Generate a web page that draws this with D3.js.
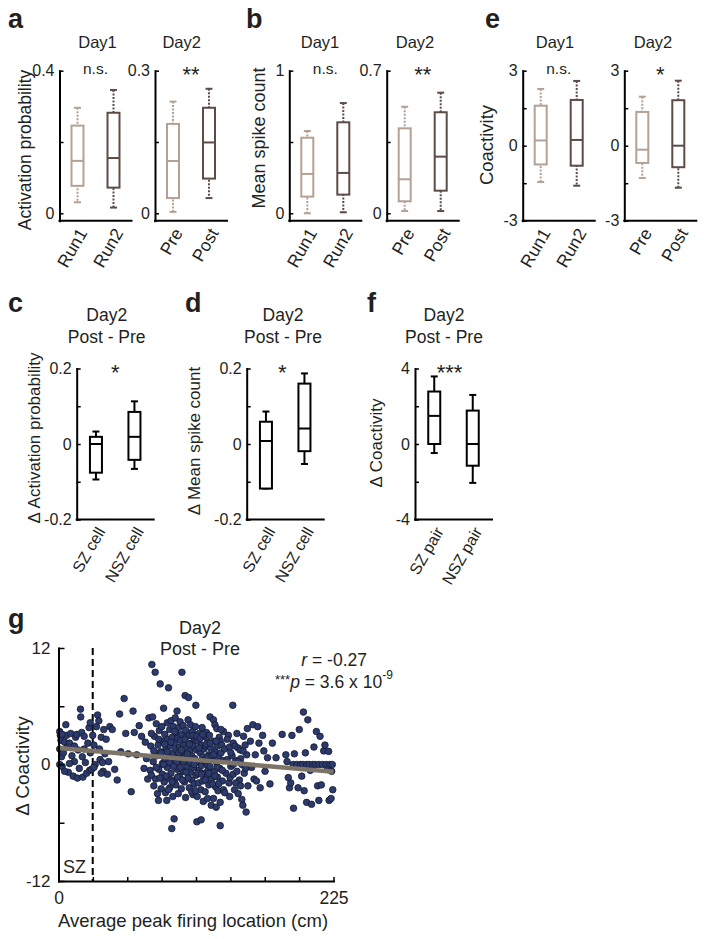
<!DOCTYPE html>
<meta charset="utf-8">
<style>
body,html{margin:0;padding:0;background:#fff}
svg text{font-family:"Liberation Sans",Arial,Helvetica,sans-serif;fill:#231f20}
</style>
<svg width="704" height="939"></svg>
<script src="https://d3js.org/d3.v7.min.js"></script>
<script>

var svg = d3.select("svg");

var lightCol = "#b3a195", darkCol = "#5d4c46";

// box stats: [low whisker, q1, median, q3, high whisker]
var runCats = ["Run1", "Run2"], prePostCats = ["Pre", "Post"];
var actDay1 = [[0.031, 0.077, 0.147, 0.246, 0.296], [0.016, 0.072, 0.155, 0.282, 0.346]];
var actDay2 = [[0.003, 0.032, 0.110, 0.188, 0.235], [0.032, 0.073, 0.149, 0.222, 0.262]];
var spkDay1 = [[0, 0.117, 0.276, 0.530, 0.577], [0.007, 0.131, 0.283, 0.638, 0.773]];
var spkDay2 = [[0.011, 0.059, 0.167, 0.417, 0.523], [0.011, 0.111, 0.278, 0.496, 0.592]];
var coDay1 = [[-1.45, -0.75, 0.21, 1.6, 2.27], [-1.6, -0.8, 0.23, 1.83, 2.59]];
var coDay2 = [[-1.29, -0.69, -0.16, 1.35, 1.96], [-1.68, -0.86, 0, 1.82, 2.6]];

var cellCats = ["SZ cell", "NSZ cell"], pairCats = ["SZ pair", "NSZ pair"];
var dAct = [[-0.094, -0.076, 0, 0.019, 0.033], [-0.066, -0.042, 0.019, 0.085, 0.113]];
var dSpk = [[-0.118, -0.118, 0.008, 0.059, 0.086], [-0.053, -0.019, 0.041, 0.16, 0.187]];
var dCo = [[-0.48, 0, 1.49, 2.78, 3.58], [-2.06, -1.15, 0, 1.77, 2.6]];

// panel g: [average peak location (cm), delta coactivity]
var coactPts = [
[1,3.4],[1.5,3.0],[2,2.5],[1,1.6],[2.5,0.8],[1,0],[3,-0.2],[4,1.2],[5,2.3],[6,4.1],[6.5,3.0],[7,1.8],[8,-0.8],[9,2.2],
[10,3.2],[11,0.9],[12,-1.2],[13,0.3],[14,2.8],[15,3.1],[15.5,-1.4],[16,1.5],[17,-0.4],[18,5.7],[18.2,4.9],[19,3.3],
[19.5,0.8],[20,-1.3],[21,1.6],[22,0.2],[23,-0.9],[24,2.2],[25,3.8],[25.5,-0.6],[26,1.2],[27,-0.5],[28,3.0],[29,2.0],
[30,0.0],[31,3.9],[32,5.1],[33,4.5],[33.5,1.6],[34,0.5],[35,2.8],[36,0.2],[36.5,-0.7],[37,3.6],[38,1.1],[39,2.6],
[40,-1.0],[41,0.3],[42,3.9],[3,3.1],[5,-0.7],[9,0.1],[13,1.9],[21,2.9],[26,4.3],[29,-0.3],[35,-0.9],
[44,3.6],[46,-0.5],[48,-1.6],[50,5.2],[51,1.3],[53.7,6.8],[55,3.2],[57,1.1],[59.5,-2.8],[61,5.5],[62,3.3],[64,1.0],
[66,4.0],[68,2.9],[70,-0.4],[71,2.3],[72,0.6],[73,-1.5],[74,4.8],
[75,-0.6],[75.5,1.9],[76,-1.1],[76.4,10.3],[77,4.9],[77.5,0.3],[78,-2.2],[78.5,2.9],[79.1,9.5],[79.5,-1.5],[80,4.2],
[80.5,0.9],[81,-3.0],[81.5,2.0],[81.8,-3.7],[82,-0.5],[82.5,3.5],[83.2,8.3],[83.5,1.3],[84,-2.5],[84.5,3.9],[85,0.1],
[85,-1.0],[85.5,2.4],
[86,5.8],[86.5,-1.8],[87,3.1],[87,0.6],[87.5,-2.9],[88,1.7],[88.6,-3.7],[89,4.3],[89,-0.3],[89.5,2.6],[90,7.9],
[90,-1.4],[90.5,0.8],[91,3.6],[91,-2.4],[91.5,1.9],[92,4.5],[92,-0.9],[92.7,-6.6],[93,2.8],[93,0.3],[93.5,-3.3],
[94,3.9],[94,1.2],[94.6,-5.6],[95,-1.6],[95,2.2],[95.5,4.8],[95.5,0.0],
[96,3.3],[96,-2.1],[96.5,1.5],[97,5.5],[97,-0.5],[97.5,2.7],[98,0.9],[98,-3.0],[98.5,3.8],[99,1.8],[99,-1.2],
[99.5,4.4],[100,0.4],[100,2.5],[100.5,-2.5],[101,9.5],[101,3.1],[101.5,1.1],[102,-0.7],[102,4.0],[102.5,2.0],
[103,-1.8],[103,0.7],[103.6,7.1],[104,3.5],[104,-3.4],[104.5,1.6],[105,-0.2],[105,2.9],
[106,4.6],[106.4,6.9],[106.5,0.5],[107,-2.4],[107,3.0],[107.5,1.4],[108,-0.8],[108,4.1],[108.5,2.2],[109,-1.6],
[109,0.9],[109.5,3.4],[110,-3.1],[110,1.9],[110.5,-0.3],[111,2.7],[111,-2.0],[111.5,0.6],[112,3.9],[112.4,6.1],
[112.5,-1.1],[113,1.5],[113.2,-5.9],[113.5,-3.3],[114,2.4],[114,0.2],[114.5,-1.9],[115,3.2],[115,-0.6],
[116,1.2],[116.7,-5.7],[116.5,-2.6],[117,2.0],[117,-0.1],[117.5,3.8],[118,0.8],[118,-1.7],[118.5,-3.8],[119,1.6],
[119,2.9],[119.5,-0.9],[120,0.3],[120,-2.8],[120.5,1.9],[121,-1.3],[121,3.3],[121.5,0.0],[122,-3.5],[122,2.3],
[122.5,-0.5],[123,1.0],[123,-2.1],[123.5,3.0],[124,4.9],[124,-0.2],[124.5,1.7],[125,-1.5],[125,-4.2],
[126,0.6],[126.8,4.6],[126.8,-3.5],[127,2.4],[127.5,-0.7],[128,4.1],[128,1.3],[128.5,-2.3],[129,-4.4],[129.5,3.7],
[129.5,0.2],[130,-1.3],[130,1.9],[130.5,-2.7],[131,0.9],[131.5,2.8],[132,-0.4],[132.3,2.4],[132.3,-6.3],[132.3,-3.9],
[133,1.2],[133.6,2.0],[134,-1.7],[134.5,0.4],[135,-2.6],[135,3.4],
[96.5,0.2],[97.5,-1.3],[98.5,1.2],[99.5,-0.3],[100.5,1.5],[101.5,-1.6],[102.5,0.3],[103.5,2.6],[104.5,-0.8],
[105.5,1.1],[106,-1.4],[107,2.1],[108,0.2],[109,-2.8],[110,3.0],[111,0.0],[112,-2.7],[113,2.9],[114,-0.9],[115,1.7],
[116,2.7],[117,-1.0],[118,3.1],[119,0.4],[120,-1.6],[121,2.1],[122,0.8],[123,-0.9],[124,2.2],[125,0.9],[126,-2.0],
[127,1.0],[128,-1.2],[129,2.4],[130,-0.3],[131,-2.0],[89,1.3],[90,-2.6],[91,0.2],[92,2.3],[93,-1.8],[94,-0.2],
[95,3.4],[88,-1.2],[87,2.1],[86,0.0],[84,1.2],[83,-1.4],[82,2.6],[80,-0.3],[78,1.4],[76,3.2],
[136,1.6],[137,-0.9],[138,0.5],[139,3.0],[139.5,-1.9],[140,1.8],[140.4,-1.35],[141,-0.2],[142,0.9],[142.6,6.1],
[143,2.2],[143,-1.0],[144,-2.6],[144.5,1.9],[145,0.4],[146,-0.7],[146,3.2],[147,1.7],[147,-3.0],[148,-1.6],
[148.6,1.5],[149,0.6],[150,0.0],[150,-3.6],[150.8,-4.2],[151.4,2.9],[152,-0.9],[152.7,2.0],[153.5,-4.9],[154,1.0],
[154.5,3.7],[155,-2.2],[133,3.6],[134,-0.6],[136,-2.9],[138,2.6],[140,-3.3],[141,1.2],[143,0.0],[145,-1.9],[147,0.3],
[149,-2.2],[151,1.4],[153,-0.4],
[157,2.4],[158,-0.3],[159,4.1],[160,-1.5],[161,1.0],[162,-1.7],[163,3.9],[164,2.2],[165,-2.4],[167,3.0],[168,1.4],
[169,-0.7],[171,0.7],[173,-2.0],[175,2.2],[178,0.7],[183,3.1],[186,1.0],[187,0.3],[188,-1.35],[189,-2.4],[190,-1.9],
[191,3.0],[192,0.0],[192.3,-4.5],[193,1.1],
[195,0.0],[196,-2.4],[197,3.6],[198,0.0],[199,-1.2],[200,0.0],[200.4,5.4],[201,-2.7],[202,1.2],[203,-3.9],[203,0.0],
[204,4.6],[205,0.0],[206,-0.6],[207,-4.1],[208,0.0],[209,1.8],[210,0.0],[211,3.4],[212,-2.2],[213,-3.7],[213,0.0],
[214,2.9],[215,-2.1],[216,0.0],[217,1.4],[218,2.0],[219,0.0],[220,-0.5],[221,1.35],[221.4,-3.7],[222,0.0],
[223,-3.5],[223.5,-0.7],[224.4,-2.6],[224,0.0]
];
var fitLine = [[0, 1.7], [225, -0.75]];
var szEdge = 28;
var gXTicks = [0, 28.125, 56.25, 84.375, 112.5, 140.625, 168.75, 196.875, 225];
var gYTicks = [-12, -6, 0, 6, 12];

function panelLetter(t, x, y) {
  svg.append("text").attr("x", x).attr("y", y).attr("font-size", 27)
    .attr("font-weight", "bold").text(t);
}

function yLabel(t, x, y, fs) {
  svg.append("text").attr("transform", "translate(" + x + "," + y + ") rotate(-90)")
    .attr("text-anchor", "middle").attr("font-size", fs || 18).text(t);
}

function styleAxis(a, fs) {
  a.attr("font-size", fs);
  a.select(".domain").attr("stroke-width", 2).attr("stroke-linecap", "square");
  a.selectAll(".tick line").attr("stroke-width", 1.5);
}

function boxPlot(o) {
  var y = d3.scaleLinear().domain(o.domain).range([o.yBot, o.yTop]);
  var x = d3.scalePoint().domain(o.cats).range([o.x0, o.x0 + o.w]).padding(0.5);
  var g = svg.append("g");

  var ax = g.append("g").attr("transform", "translate(" + o.x0 + ",0)")
    .call(d3.axisLeft(y).tickValues(o.ticks).tickSizeInner(-4).tickSizeOuter(0).tickPadding(5)
      .tickFormat(function(d) { return o.labels.indexOf(d) >= 0 ? d : ""; }));
  styleAxis(ax, 16);

  g.append("line").attr("x1", o.x0).attr("x2", o.x0 + o.w)
    .attr("y1", o.yBot).attr("y2", o.yBot)
    .attr("stroke", "#000").attr("stroke-width", 2).attr("stroke-linecap", "square");

  var bw = 12, cw = 7;
  var box = g.selectAll(".box").data(o.stats).join("g")
    .attr("stroke", function(d, i) { return o.colors[i]; })
    .attr("stroke-width", 2).attr("fill", "none");
  box.append("line")
    .attr("x1", function(d, i) { return x(o.cats[i]); }).attr("x2", function(d, i) { return x(o.cats[i]); })
    .attr("y1", function(d) { return y(d[4]); }).attr("y2", function(d) { return y(d[0]); })
    .attr("stroke-dasharray", o.dashed ? "2,1.5" : null);
  box.append("line")
    .attr("x1", function(d, i) { return x(o.cats[i]) - cw / 2; }).attr("x2", function(d, i) { return x(o.cats[i]) + cw / 2; })
    .attr("y1", function(d) { return y(d[4]); }).attr("y2", function(d) { return y(d[4]); });
  box.append("line")
    .attr("x1", function(d, i) { return x(o.cats[i]) - cw / 2; }).attr("x2", function(d, i) { return x(o.cats[i]) + cw / 2; })
    .attr("y1", function(d) { return y(d[0]); }).attr("y2", function(d) { return y(d[0]); });
  box.append("rect")
    .attr("x", function(d, i) { return x(o.cats[i]) - bw / 2; }).attr("width", bw)
    .attr("y", function(d) { return y(d[3]); })
    .attr("height", function(d) { return y(d[1]) - y(d[3]); })
    .attr("fill", "#fff");
  box.append("line")
    .attr("x1", function(d, i) { return x(o.cats[i]) - bw / 2; }).attr("x2", function(d, i) { return x(o.cats[i]) + bw / 2; })
    .attr("y1", function(d) { return y(d[2]); }).attr("y2", function(d) { return y(d[2]); });

  g.selectAll(".xl").data(o.cats).join("text")
    .attr("transform", function(d) { return "translate(" + (x(d) + 5) + "," + (o.yBot + 9) + ") rotate(-60)"; })
    .attr("text-anchor", "end").attr("dy", "0.35em").attr("font-size", o.xfs || 17.5)
    .text(function(d) { return d; });

  if (o.title) {
    o.title.forEach(function(t, i) {
      g.append("text").attr("x", o.titleX).attr("y", o.titleY + i * 22)
        .attr("text-anchor", "middle").attr("font-size", o.tfs || 16.5).text(t);
    });
  }
  var sx = o.x0 + o.w / 2 + (o.sigDx || 0);
  if (o.sig === "n.s.") {
    g.append("text").attr("x", sx).attr("y", o.yTop + 3).attr("text-anchor", "middle")
      .attr("font-size", 15.5).text(o.sig);
  } else {
    g.append("text").attr("x", sx).attr("y", o.yTop + 11).attr("text-anchor", "middle")
      .attr("font-size", 22).text(o.sig);
  }
}

// ---- row 1 ----
var t1 = 70.7, b1 = 220.7;
panelLetter("a", 8, 28);
boxPlot({x0: 59.5, w: 72, yTop: t1, yBot: b1, domain: [-0.0208, 0.4], ticks: [0, 0.2, 0.4], labels: [0, 0.4],
  cats: runCats, stats: actDay1, colors: [lightCol, darkCol], dashed: true,
  title: ["Day1"], titleX: 97.5, titleY: 48, sig: "n.s."});
boxPlot({x0: 155, w: 72, yTop: t1, yBot: b1, domain: [-0.0156, 0.3], ticks: [0, 0.15, 0.3], labels: [0, 0.3],
  cats: prePostCats, stats: actDay2, colors: [lightCol, darkCol], dashed: true,
  title: ["Day2"], titleX: 181.7, titleY: 48, sig: "**"});
yLabel("Activation probability", 31, 150, 17.5);

panelLetter("b", 246, 28);
boxPlot({x0: 289.3, w: 72, yTop: t1, yBot: b1, domain: [-0.052, 1], ticks: [0, 0.5, 1], labels: [0, 1],
  cats: runCats, stats: spkDay1, colors: [lightCol, darkCol], dashed: true,
  title: ["Day1"], titleX: 320, titleY: 48, sig: "n.s."});
boxPlot({x0: 386.7, w: 72, yTop: t1, yBot: b1, domain: [-0.0364, 0.7], ticks: [0, 0.35, 0.7], labels: [0, 0.7],
  cats: prePostCats, stats: spkDay2, colors: [lightCol, darkCol], dashed: true,
  title: ["Day2"], titleX: 415, titleY: 48, sig: "**"});
yLabel("Mean spike count", 264.5, 138);

panelLetter("e", 485, 28);
boxPlot({x0: 522.7, w: 72, yTop: t1, yBot: b1, domain: [-3, 3], ticks: [-3, -1.5, 0, 1.5, 3], labels: [-3, 0, 3],
  cats: runCats, stats: coDay1, colors: [lightCol, darkCol], dashed: true,
  title: ["Day1"], titleX: 555, titleY: 48, sig: "n.s."});
boxPlot({x0: 624.3, w: 72, yTop: t1, yBot: b1, domain: [-3, 3], ticks: [-3, -1.5, 0, 1.5, 3], labels: [-3, 0, 3],
  cats: prePostCats, stats: coDay2, colors: [lightCol, darkCol], dashed: true,
  title: ["Day2"], titleX: 653, titleY: 48, sig: "*"});
yLabel("Coactivity", 493, 145, 18.5);

// ---- row 2 ----
var t2 = 368.5, b2 = 519.5;
panelLetter("c", 8, 312);
boxPlot({x0: 76.7, w: 77, yTop: t2, yBot: b2, domain: [-0.2, 0.2], ticks: [-0.2, -0.1, 0, 0.1, 0.2], labels: [-0.2, 0, 0.2],
  cats: cellCats, stats: dAct, colors: ["#000", "#000"], xfs: 16, tfs: 17.5,
  title: ["Day2", "Post - Pre"], titleX: 106.7, titleY: 321, sig: "*", sigDx: 0});
yLabel("\u0394 Activation probability", 39.5, 438, 17);

panelLetter("d", 185, 312);
boxPlot({x0: 246.7, w: 77, yTop: t2, yBot: b2, domain: [-0.2, 0.2], ticks: [-0.2, -0.1, 0, 0.1, 0.2], labels: [-0.2, 0, 0.2],
  cats: cellCats, stats: dSpk, colors: ["#000", "#000"], xfs: 16, tfs: 17.5,
  title: ["Day2", "Post - Pre"], titleX: 283, titleY: 321, sig: "*", sigDx: -3});
yLabel("\u0394 Mean spike count", 199.5, 441, 17);

panelLetter("f", 367, 312);
boxPlot({x0: 415, w: 77, yTop: t2, yBot: b2, domain: [-4, 4], ticks: [-4, -2, 0, 2, 4], labels: [-4, 0, 4],
  cats: pairCats, stats: dCo, colors: ["#000", "#000"], xfs: 16, tfs: 17.5,
  title: ["Day2", "Post - Pre"], titleX: 444, titleY: 321, sig: "***", sigDx: -4});
yLabel("\u0394 Coactivity", 381.5, 443, 17);

// ---- panel g ----
panelLetter("g", 8, 628);
var gx = d3.scaleLinear().domain([0, 225]).range([58.5, 333.5]);
var gy = d3.scaleLinear().domain([-12, 12]).range([881, 648]);
var gg = svg.append("g");

gg.append("line").attr("x1", gx(szEdge)).attr("x2", gx(szEdge))
  .attr("y1", gy(12)).attr("y2", gy(-12))
  .attr("stroke", "#000").attr("stroke-width", 2).attr("stroke-dasharray", "7,4");

gg.selectAll("circle").data(coactPts).join("circle")
  .attr("cx", function(d) { return gx(d[0]); })
  .attr("cy", function(d) { return gy(d[1]); })
  .attr("r", 3.3).attr("fill", "#2c3a6e").attr("stroke", "#151a2c").attr("stroke-width", 0.8);

gg.append("line")
  .attr("x1", gx(fitLine[0][0])).attr("y1", gy(fitLine[0][1]))
  .attr("x2", gx(fitLine[1][0])).attr("y2", gy(fitLine[1][1]))
  .attr("stroke", "#7d7467").attr("stroke-width", 4.5);

var gyAx = gg.append("g").attr("transform", "translate(" + gx(0) + ",0)")
  .call(d3.axisLeft(gy).tickValues(gYTicks).tickSizeInner(-6).tickSizeOuter(0).tickPadding(8)
    .tickFormat(function(d) { return [-12, 0, 12].indexOf(d) >= 0 ? d : ""; }));
var gxAx = gg.append("g").attr("transform", "translate(0," + gy(-12) + ")")
  .call(d3.axisBottom(gx).tickValues(gXTicks).tickSizeInner(-4).tickSizeOuter(0).tickPadding(11)
    .tickFormat(function(d) { return d === 0 || d === 225 ? d : ""; }));
styleAxis(gyAx, 17);
styleAxis(gxAx, 17.5);

gg.append("text").attr("x", 63).attr("y", 873).attr("font-size", 18).text("SZ");
gg.append("text").attr("x", 200).attr("y", 634).attr("text-anchor", "middle").attr("font-size", 18).text("Day2");
gg.append("text").attr("x", 200).attr("y", 655).attr("text-anchor", "middle").attr("font-size", 18).text("Post - Pre");

var rt = gg.append("text").attr("x", 367).attr("y", 666).attr("text-anchor", "end").attr("font-size", 17.5);
rt.append("tspan").attr("font-style", "italic").text("r");
rt.append("tspan").text(" = -0.27");
var pt = gg.append("text").attr("x", 275).attr("y", 688).attr("font-size", 17.5);
pt.append("tspan").attr("font-size", 13).attr("dy", -4).text("***");
pt.append("tspan").attr("font-style", "italic").attr("dy", 4).text("p");
pt.append("tspan").text(" = 3.6 x 10");
pt.append("tspan").attr("font-size", 12).attr("dy", -9).text("-9");

yLabel("\u0394 Coactivity", 29, 766, 19);
gg.append("text").attr("x", 193).attr("y", 927).attr("text-anchor", "middle").attr("font-size", 18.5)
  .text("Average peak firing location (cm)");

</script>
